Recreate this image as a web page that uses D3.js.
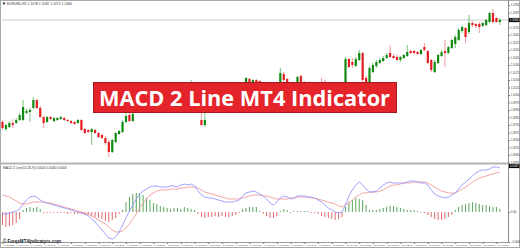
<!DOCTYPE html>
<html><head><meta charset="utf-8">
<script src="https://cdn.jsdelivr.net/npm/d3@7"></script>
<style>html,body{margin:0;padding:0;background:#fff;overflow:hidden}svg{display:block}</style>
</head><body>
<svg id="chart" width="520" height="248"></svg>
<script>
// EURUSD H1 candles (146 bars)
const open = [1.0978,1.0971,1.0973,1.0977,1.0977,1.0980,1.0980,1.0987,1.0988,1.0992,
1.1000,1.0992,1.0983,1.0978,1.0983,1.0979,1.0980,1.0981,1.0982,1.0980,
1.0979,1.0978,1.0977,1.0980,1.0971,1.0970,1.0968,1.0970,1.0967,1.0965,
1.0962,1.0958,1.0948,1.0958,1.0966,1.0968,1.0978,1.0985,1.0979,1.0988,
1.0993,1.0998,1.0995,1.1001,1.1005,1.1001,1.1006,1.1003,1.1007,1.1004,
1.1008,1.1005,1.1008,1.1011,1.1008,1.1011,1.1013,1.1000,1.0980,1.0975,
1.0988,1.0994,1.0991,1.0996,1.0993,1.0998,1.1002,1.0999,1.1004,1.1008,
1.1012,1.1014,1.1021,1.1015,1.1020,1.1019,1.1012,1.1005,1.0999,1.0994,
1.1000,1.1010,1.1026,1.1021,1.1012,1.1016,1.1012,1.1024,1.1018,1.1014,
1.1016,1.1012,1.1008,1.1011,1.1005,1.1001,1.0997,1.0994,1.0996,1.0992,
1.0990,1.1041,1.1038,1.1034,1.1040,1.1047,1.1022,1.1017,1.1028,1.1034,
1.1037,1.1039,1.1042,1.1047,1.1044,1.1043,1.1040,1.1042,1.1044,1.1049,
1.1049,1.1048,1.1046,1.1053,1.1049,1.1040,1.1028,1.1037,1.1044,1.1049,
1.1047,1.1052,1.1056,1.1060,1.1069,1.1072,1.1068,1.1077,1.1076,1.1076,
1.1074,1.1075,1.1078,1.1087,1.1082,1.1078];
const high = [1.0980,1.0976,1.0979,1.0981,1.0982,1.0987,1.1000,1.0991,1.0992,1.1003,
1.1001,1.0994,1.0984,1.0984,1.0984,1.0983,1.0983,1.0984,1.0983,1.0981,
1.0980,1.0979,1.0981,1.0981,1.0972,1.0971,1.0972,1.0971,1.0968,1.0966,
1.0964,1.0960,1.0961,1.0968,1.0970,1.0980,1.0987,1.0987,1.0988,1.0996,
1.1000,1.1001,1.1004,1.1007,1.1007,1.1008,1.1008,1.1009,1.1009,1.1011,
1.1010,1.1010,1.1013,1.1012,1.1014,1.1020,1.1014,1.1002,1.0990,1.0987,
1.0996,1.0996,1.0998,1.0998,1.1000,1.1004,1.1004,1.1006,1.1010,1.1014,
1.1018,1.1023,1.1022,1.1021,1.1021,1.1020,1.1013,1.1007,1.1001,1.1002,
1.1014,1.1032,1.1028,1.1022,1.1018,1.1017,1.1024,1.1025,1.1019,1.1018,
1.1017,1.1014,1.1013,1.1022,1.1020,1.1003,1.0999,1.0998,1.0998,1.0995,
1.1043,1.1042,1.1042,1.1043,1.1050,1.1048,1.1024,1.1034,1.1037,1.1040,
1.1042,1.1044,1.1047,1.1055,1.1046,1.1045,1.1044,1.1046,1.1055,1.1050,
1.1050,1.1049,1.1051,1.1057,1.1050,1.1041,1.1040,1.1046,1.1050,1.1060,
1.1054,1.1061,1.1065,1.1072,1.1075,1.1073,1.1085,1.1079,1.1077,1.1078,
1.1078,1.1081,1.1088,1.1091,1.1083,1.1082];
const low = [1.0970,1.0969,1.0972,1.0972,1.0976,1.0979,1.0979,1.0986,1.0978,1.0991,
1.0991,1.0982,1.0972,1.0977,1.0980,1.0978,1.0979,1.0980,1.0979,1.0978,
1.0976,1.0975,1.0976,1.0969,1.0966,1.0967,1.0955,1.0966,1.0962,1.0961,
1.0955,1.0943,1.0947,1.0957,1.0965,1.0967,1.0977,1.0978,1.0978,1.0988,
1.0992,1.0993,1.0994,1.0999,1.1000,1.0999,1.1001,1.1002,1.1002,1.1003,
1.1003,1.1004,1.1006,1.1007,1.1007,1.1010,1.0998,1.0987,1.0974,1.0973,
1.0987,1.0989,1.0990,1.0991,1.0992,1.0996,1.0997,1.0998,1.1002,1.1006,
1.1010,1.1012,1.1015,1.1013,1.1012,1.1010,1.1003,1.0997,1.0992,1.0992,
1.0999,1.1009,1.1018,1.1010,1.1010,1.1011,1.1011,1.1016,1.1012,1.1012,
1.1010,1.1007,1.1006,1.1002,1.0999,1.0995,1.0992,1.0992,1.0990,1.0988,
1.0989,1.1032,1.1032,1.1033,1.1039,1.1015,1.1012,1.1012,1.1027,1.1032,
1.1036,1.1038,1.1041,1.1042,1.1041,1.1039,1.1038,1.1041,1.1043,1.1046,
1.1045,1.1045,1.1045,1.1049,1.1036,1.1028,1.1027,1.1036,1.1043,1.1033,
1.1046,1.1051,1.1052,1.1059,1.1067,1.1057,1.1066,1.1073,1.1072,1.1067,
1.1073,1.1074,1.1077,1.1077,1.1077,1.1075];
const close = [1.0972,1.0975,1.0977,1.0975,1.0980,1.0985,1.0993,1.0989,1.0990,1.1000,
1.0992,1.0983,1.0977,1.0983,1.0981,1.0982,1.0982,1.0983,1.0980,1.0979,
1.0977,1.0976,1.0980,1.0970,1.0967,1.0968,1.0971,1.0967,1.0963,1.0962,
1.0957,1.0948,1.0960,1.0967,1.0969,1.0978,1.0984,1.0979,1.0986,1.0994,
1.0998,1.0995,1.1002,1.1005,1.1001,1.1006,1.1003,1.1007,1.1004,1.1009,
1.1005,1.1008,1.1011,1.1008,1.1012,1.1014,1.1000,1.0988,1.0975,1.0980,
1.0994,1.0991,1.0996,1.0993,1.0998,1.1002,1.0999,1.1004,1.1008,1.1012,
1.1016,1.1022,1.1017,1.1020,1.1014,1.1012,1.1005,1.0999,1.0994,1.1000,
1.1012,1.1027,1.1020,1.1012,1.1016,1.1013,1.1023,1.1018,1.1014,1.1016,
1.1012,1.1008,1.1011,1.1004,1.1001,1.0997,1.0994,1.0996,1.0992,1.0990,
1.1041,1.1033,1.1035,1.1041,1.1047,1.1020,1.1014,1.1032,1.1035,1.1038,
1.1040,1.1042,1.1045,1.1043,1.1042,1.1040,1.1043,1.1045,1.1048,1.1047,
1.1047,1.1046,1.1050,1.1050,1.1037,1.1030,1.1038,1.1045,1.1048,1.1047,
1.1053,1.1060,1.1063,1.1070,1.1073,1.1063,1.1077,1.1075,1.1074,1.1073,
1.1077,1.1080,1.1087,1.1078,1.1078,1.1080];

// MACD 2 Line (12,26,9)
const macdLine = [-0.0002,-0.0002,-0.0001,0,0.0001,0.0003,0.0008,0.0012,0.0015,0.0016,
0.0015,0.0012,0.0010,0.0009,0.0008,0.0007,0.0006,0.0005,0.0004,0.0003,
0.0002,0.0001,0,-0.0001,-0.0002,-0.0004,-0.0007,-0.0010,-0.0014,-0.0018,
-0.0022,-0.0026,-0.0027,-0.0025,-0.0020,-0.0013,-0.0006,0.0001,0.0007,0.0013,
0.0018,0.0021,0.0023,0.0025,0.0026,0.0026,0.0025,0.0025,0.0025,0.0026,
0.0026,0.0025,0.0027,0.0028,0.0027,0.0028,0.0026,0.0021,0.0017,0.0015,
0.0014,0.0014,0.0013,0.0012,0.0011,0.0010,0.0010,0.0010,0.0011,0.0012,
0.0016,0.0019,0.0020,0.0021,0.0020,0.0018,0.0016,0.0013,0.0009,0.0007,
0.0010,0.0014,0.0016,0.0015,0.0013,0.0014,0.0016,0.0016,0.0016,0.0015,
0.0015,0.0014,0.0012,0.0010,0.0007,0.0004,0.0002,0,-0.0001,0,
0.0007,0.0016,0.0022,0.0027,0.0030,0.0027,0.0023,0.0020,0.0020,0.0021,
0.0024,0.0027,0.0029,0.0030,0.0029,0.0029,0.0029,0.0029,0.0030,0.0031,
0.0031,0.0030,0.0029,0.0029,0.0027,0.0022,0.0018,0.0016,0.0015,0.0014,
0.0015,0.0017,0.0019,0.0023,0.0027,0.0030,0.0033,0.0036,0.0039,0.0041,
0.0042,0.0042,0.0043,0.0045,0.0045,0.0044];
const signalLine = [0.0017,0.0016,0.0015,0.0013,0.0011,0.0009,0.0008,0.0008,0.0009,0.0010,
0.0010,0.0010,0.0010,0.0009,0.0009,0.0008,0.0007,0.0006,0.0005,0.0004,
0.0003,0.0002,0.0001,0,-0.0001,-0.0002,-0.0004,-0.0006,-0.0008,-0.0010,
-0.0012,-0.0015,-0.0018,-0.0020,-0.0020,-0.0019,-0.0016,-0.0012,-0.0007,-0.0002,
0.0004,0.0009,0.0013,0.0017,0.0019,0.0021,0.0022,0.0022,0.0022,0.0023,
0.0023,0.0023,0.0024,0.0024,0.0025,0.0025,0.0025,0.0024,0.0022,0.0020,
0.0019,0.0018,0.0017,0.0016,0.0015,0.0014,0.0013,0.0013,0.0013,0.0013,
0.0014,0.0015,0.0016,0.0017,0.0017,0.0017,0.0016,0.0016,0.0015,0.0014,
0.0013,0.0013,0.0013,0.0013,0.0014,0.0014,0.0015,0.0015,0.0015,0.0015,
0.0014,0.0014,0.0013,0.0012,0.0011,0.0010,0.0009,0.0008,0.0006,0.0005,
0.0007,0.0009,0.0012,0.0015,0.0017,0.0019,0.0019,0.0020,0.0020,0.0020,
0.0021,0.0022,0.0024,0.0026,0.0027,0.0027,0.0028,0.0029,0.0029,0.0029,
0.0030,0.0030,0.0030,0.0030,0.0029,0.0027,0.0025,0.0023,0.0021,0.0020,
0.0019,0.0019,0.0019,0.0021,0.0023,0.0025,0.0027,0.0030,0.0032,0.0034,
0.0035,0.0036,0.0037,0.0038,0.0039,0.0040];
const histogram = [-0.0013,-0.0015,-0.0014,-0.0013,-0.0011,-0.0007,0.0002,0.0004,0.0005,0.0004,
0.0005,0.0003,-0.0001,-0.0001,-0.0001,-0.0001,-0.0001,-0.0001,-0.0001,-0.0002,
-0.0001,-0.0002,-0.0002,-0.0002,-0.0003,-0.0003,-0.0004,-0.0005,-0.0006,-0.0007,
-0.0009,-0.0010,-0.0008,-0.0006,-0.0002,0.0002,0.0010,0.0015,0.0018,0.0019,
0.0019,0.0017,0.0014,0.0012,0.0009,0.0008,0.0006,0.0005,0.0004,0.0003,
0.0004,0.0004,0.0003,0.0005,0.0004,0.0003,0.0002,-0.0002,-0.0005,-0.0006,
-0.0005,-0.0005,-0.0004,-0.0005,-0.0004,-0.0005,-0.0005,-0.0004,-0.0003,-0.0001,
0.0003,0.0004,0.0005,0.0005,0.0005,0.0001,-0.0002,-0.0004,-0.0006,-0.0006,
-0.0004,0.0001,0.0003,0.0002,-0.0001,0.0001,0.0001,0.0001,0.0001,0.0001,
-0.0001,-0.0001,-0.0002,-0.0004,-0.0005,-0.0006,-0.0007,-0.0008,-0.0007,-0.0005,
0.0005,0.0010,0.0012,0.0014,0.0013,0.0012,0.0007,0.0002,0.0002,0.0002,
0.0003,0.0004,0.0005,0.0006,0.0006,0.0005,0.0004,0.0003,0.0002,0.0002,
0.0002,0.0001,-0.0001,-0.0001,-0.0003,-0.0005,-0.0007,-0.0008,-0.0008,-0.0007,
-0.0005,-0.0003,0.0002,0.0005,0.0007,0.0008,0.0009,0.0010,0.0009,0.0008,
0.0007,0.0007,0.0006,0.0005,0.0005,0.0003];

// axis labels
const priceTicks = [1.10950,1.10875,1.10800,1.10725,1.10650,1.10575,1.10500,1.10425,1.10350,1.10275,
1.10200,1.10125,1.10050,1.09975,1.09900,1.09825,1.09750,1.09675,1.09600,1.09525,1.09450,1.09375];
const macdTicks = [0, -0.0030];
const macdTop = 0.0047;
const timeLabels = [
"6 Aug 2019","6 Aug 04:00","6 Aug 08:00","6 Aug 12:00","6 Aug 16:00","6 Aug 20:00",
"7 Aug 00:00","7 Aug 04:00","7 Aug 08:00","7 Aug 12:00","7 Aug 16:00","7 Aug 20:00",
"8 Aug 00:00","8 Aug 04:00","8 Aug 08:00","8 Aug 12:00","8 Aug 16:00","8 Aug 20:00",
"9 Aug 00:00","9 Aug 04:00","9 Aug 08:00","9 Aug 12:00","9 Aug 16:00","9 Aug 20:00",
"12 Aug 00:00","12 Aug 04:00","12 Aug 08:00","12 Aug 12:00","12 Aug 16:00","12 Aug 20:00",
"13 Aug 00:00","13 Aug 04:00","13 Aug 08:00","13 Aug 12:00","13 Aug 16:00","13 Aug 20:00",
"14 Aug 00:00"];
const chartTitle = "EURUSD,H1";
const indicatorTitle = "MACD 2 Line(12,26,9)";
const bannerTitle = "MACD 2 Line MT4 Indicator";
const watermark = "\u00A9 ForexMT4Indicators.com";

const n = close.length;
[open, high, low, macdLine, signalLine, histogram].forEach(a => {
  if (a.length !== n) throw new Error("series length mismatch: " + a.length + " vs " + n);
});

const svg = d3.select("#chart");
const W = 520, H = 248;
const axisX = 508.5;
const mainTop = 2, mainBottom = 163, subTop = 165, subBottom = 242;

const x = d3.scaleLinear().domain([0, n - 1]).range([2.5, 499.85]);
const yP = d3.scaleLinear().domain([1.0937, 1.1098]).range([mainBottom, mainTop]);
const yM = d3.scaleLinear().domain([-0.0030, macdTop]).range([subBottom, subTop]);

const fmt5 = d3.format(".5f");
const fmt4 = d3.format(".4f");
const tinyFont = "Liberation Sans, Arial, sans-serif";

svg.append("rect").attr("width", W).attr("height", H).attr("fill", "#fff");

// bid price line
const last = close[n - 1];
svg.append("line").attr("x1", 2).attr("x2", axisX).attr("y1", yP(last)).attr("y2", yP(last))
  .attr("stroke", "#cdcdcd").attr("stroke-width", 1);

// candles
const up = "#0f8c0f", down = "#e41e22";
const cg = svg.append("g");
const idx = d3.range(n);
cg.selectAll("line.wick").data(idx).join("line")
  .attr("x1", i => x(i)).attr("x2", i => x(i))
  .attr("y1", i => yP(high[i])).attr("y2", i => yP(low[i]))
  .attr("stroke", i => close[i] >= open[i] ? "#7cbf7c" : "#f09a9a")
  .attr("stroke-width", 1);
cg.selectAll("rect.body").data(idx).join("rect")
  .attr("x", i => x(i) - 1.1).attr("width", 2.2)
  .attr("y", i => Math.min(yP(open[i]), yP(close[i])))
  .attr("height", i => Math.max(1, Math.abs(yP(open[i]) - yP(close[i]))))
  .attr("fill", i => close[i] >= open[i] ? up : down);

// MACD histogram
const hg = svg.append("g");
hg.selectAll("line").data(idx).join("line")
  .attr("x1", i => x(i)).attr("x2", i => x(i))
  .attr("y1", yM(0)).attr("y2", i => yM(histogram[i]))
  .attr("stroke", i => histogram[i] >= 0 ? "#5aa65a" : "#e46a6a")
  .attr("stroke-width", 1);

// MACD and signal lines
const line = d3.line().x((d, i) => x(i)).y(d => yM(d));
svg.append("path").datum(signalLine).attr("d", line)
  .attr("fill", "none").attr("stroke", "#f39a9a").attr("stroke-width", 0.9);
svg.append("path").datum(macdLine).attr("d", line)
  .attr("fill", "none").attr("stroke", "#9696ff").attr("stroke-width", 0.9);

// frames
svg.append("rect").attr("x", 0.5).attr("y", 0.5).attr("width", W - 1).attr("height", H - 1)
  .attr("fill", "none").attr("stroke", "#a8a8a8");
svg.append("line").attr("x1", 0).attr("x2", axisX).attr("y1", 163.5).attr("y2", 163.5)
  .attr("stroke", "#b4b4b4").attr("stroke-width", 2);
svg.append("line").attr("x1", 0).attr("x2", axisX).attr("y1", 242.5).attr("y2", 242.5)
  .attr("stroke", "#9a9a9a").attr("stroke-width", 1);

// price axis
const pa = svg.append("g").attr("transform", `translate(${axisX},0)`)
  .call(d3.axisRight(yP).tickValues(priceTicks).tickSize(1.5).tickPadding(0.8).tickFormat(fmt5));
pa.select(".domain").attr("d", `M0,0V${subBottom}`).attr("stroke", "#8c8c8c");
pa.selectAll(".tick line").attr("stroke", "#777");
pa.selectAll("text").attr("font-size", 2.9).attr("font-family", tinyFont).attr("fill", "#333")
  .attr("textLength", 8.6).attr("lengthAdjust", "spacingAndGlyphs");

// MACD axis
const ma = svg.append("g").attr("transform", `translate(${axisX},0)`)
  .call(d3.axisRight(yM).tickValues(macdTicks).tickSize(1.5).tickPadding(0.8)
    .tickFormat(d => d === 0 ? "0.00" : fmt4(d)));
ma.select(".domain").remove();
ma.selectAll(".tick line").attr("stroke", "#777");
ma.selectAll("text").attr("font-size", 2.9).attr("font-family", tinyFont).attr("fill", "#333");

// value boxes on the right scale
function valueBox(y, label) {
  svg.append("rect").attr("x", axisX + 0.5).attr("y", y - 2.1).attr("width", W - axisX - 1).attr("height", 4.2).attr("fill", "#000");
  svg.append("text").attr("x", axisX + 1.5).attr("y", y + 1.0).text(label)
    .attr("font-size", 2.9).attr("font-family", tinyFont).attr("fill", "#fff")
    .attr("textLength", 8.6).attr("lengthAdjust", "spacingAndGlyphs");
}
valueBox(yP(last), fmt5(last));
valueBox(yM(macdTop) + 1, fmt4(macdTop));

// time axis
const tickIdx = d3.range(0, n, 4);
const ta = svg.append("g").attr("transform", `translate(0,${subBottom + 0.5})`)
  .call(d3.axisBottom(x).tickValues(tickIdx).tickSize(1.5).tickPadding(0.7)
    .tickFormat((d, k) => timeLabels[k]));
ta.select(".domain").remove();
ta.selectAll(".tick line").attr("stroke", "#777");
ta.selectAll("text").attr("text-anchor", "start").attr("dx", 0.6)
  .attr("font-size", 2.1).attr("font-family", tinyFont).attr("fill", "#333")
  .attr("textLength", 11).attr("lengthAdjust", "spacingAndGlyphs");

// window headers
svg.append("path").attr("d", "M2.5,2.5 L5.5,2.5 L4,5 Z").attr("fill", "#222");
svg.append("text").attr("x", 7).attr("y", 5)
  .text(`${chartTitle}  ${fmt4(open[n-1])} ${fmt4(high[n-1])} ${fmt4(low[n-1])} ${fmt4(close[n-1])}`)
  .attr("font-size", 3.4).attr("font-family", tinyFont).attr("fill", "#333");
svg.append("text").attr("x", 3).attr("y", 168.5)
  .text(`${indicatorTitle} ${fmt4(macdLine[n-1])} ${fmt4(signalLine[n-1])} ${fmt4(histogram[n-1])}`)
  .attr("font-size", 3.2).attr("font-family", tinyFont).attr("fill", "#333");

// title banner
svg.append("rect").attr("x", 93.5).attr("y", 82.5).attr("width", 303).attr("height", 30)
  .attr("fill", "#e4232a").attr("stroke", "#a11a1f").attr("stroke-width", 1);
svg.append("text").attr("x", 99).attr("y", 106.3).text(bannerTitle)
  .attr("font-family", "Open Sans, sans-serif").attr("font-weight", 700).attr("font-size", 21)
  .attr("fill", "#fff").attr("textLength", 291).attr("lengthAdjust", "spacingAndGlyphs");

// watermark
svg.append("text").attr("x", 3).attr("y", 243.2).text(watermark)
  .attr("font-family", "Liberation Sans, Arial, sans-serif").attr("font-weight", 700).attr("font-size", 5.2)
  .attr("fill", "#1c1c28").attr("textLength", 58).attr("lengthAdjust", "spacingAndGlyphs");
</script>
</body></html>
